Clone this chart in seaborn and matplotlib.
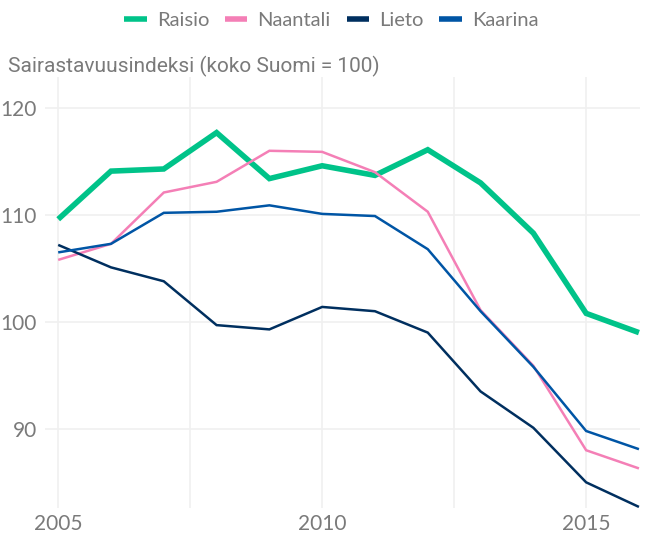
import numpy as np
import pandas as pd
import matplotlib
matplotlib.use("Agg")
import matplotlib.pyplot as plt
import seaborn as sns

# === Datos ===
years = [2005, 2006, 2007, 2008, 2009, 2010, 2011, 2012, 2013, 2014, 2015, 2016]
raisio = [109.6, 114.1, 114.3, 117.7, 113.4, 114.6, 113.7, 116.1, 113.0, 108.3, 100.8, 99.0]
naantali = [105.8, 107.3, 112.1, 113.1, 116.0, 115.9, 114.0, 110.3, 101.1, 95.9, 88.0, 86.3]
lieto = [107.2, 105.1, 103.8, 99.7, 99.3, 101.4, 101.0, 99.0, 93.5, 90.1, 85.0, 82.7]
kaarina = [106.5, 107.3, 110.2, 110.3, 110.9, 110.1, 109.9, 106.8, 101.0, 95.8, 89.8, 88.1]

names = ["Raisio", "Naantali", "Lieto", "Kaarina"]
colors = ["#00c389", "#f47fb6", "#002f5f", "#0055a5"]
widths = [4.0, 1.8, 1.8, 1.8]

df = pd.DataFrame({"vuosi": years, "Raisio": raisio, "Naantali": naantali,
                   "Lieto": lieto, "Kaarina": kaarina})
df_long = df.melt(id_vars="vuosi", var_name="kunta", value_name="indeksi")

sns.set_style("white")
plt.rcParams["font.family"] = ["Lato", "DejaVu Sans"]

fig = plt.figure(figsize=(6.47, 5.36), dpi=100)
ax = fig.add_axes([45 / 647, 28 / 536, 595 / 647, 431 / 536])

for name, col, lw in zip(names, colors, widths):
    sns.lineplot(data=df_long[df_long["kunta"] == name], x="vuosi", y="indeksi",
                 color=col, linewidth=lw, ax=ax, label=name,
                 solid_joinstyle="miter", solid_capstyle="butt")

ax.set_xlim(2004.75, 2016.02)
ax.set_ylim(82.6, 122.9)
ax.set_xticks([2005, 2010, 2015])
ax.set_xticks([2007.5, 2012.5], minor=True)
ax.set_yticks([90, 100, 110, 120])
ax.grid(True, which="both", color="#f0f0f0", linewidth=1.2)
ax.set_axisbelow(True)
for s in ax.spines.values():
    s.set_visible(False)
ax.tick_params(axis="both", which="both", length=0, labelsize=15, labelcolor="#7a7a7a")
ax.tick_params(axis="x", pad=4)
ax.tick_params(axis="y", pad=6)
ax.set_xlabel("")
ax.set_ylabel("")

handles, labels = ax.get_legend_handles_labels()
ax.get_legend().remove()
leg = fig.legend(handles, labels, loc="center", bbox_to_anchor=(0.512, 0.962), ncol=4,
                 frameon=False, handlelength=1.1, handletextpad=0.5, columnspacing=0.8,
                 prop={"size": 14.5})
for t in leg.get_texts():
    t.set_color("#7a7a7a")
for h in leg.legend_handles:
    h.set_linewidth(4)

fig.text(8 / 647, 1 - 66 / 536, "Sairastavuusindeksi (koko Suomi = 100)",
         fontsize=15, color="#7a7a7a", family=["Roboto", "DejaVu Sans"], va="center")

fig.savefig("out.png", dpi=100)
